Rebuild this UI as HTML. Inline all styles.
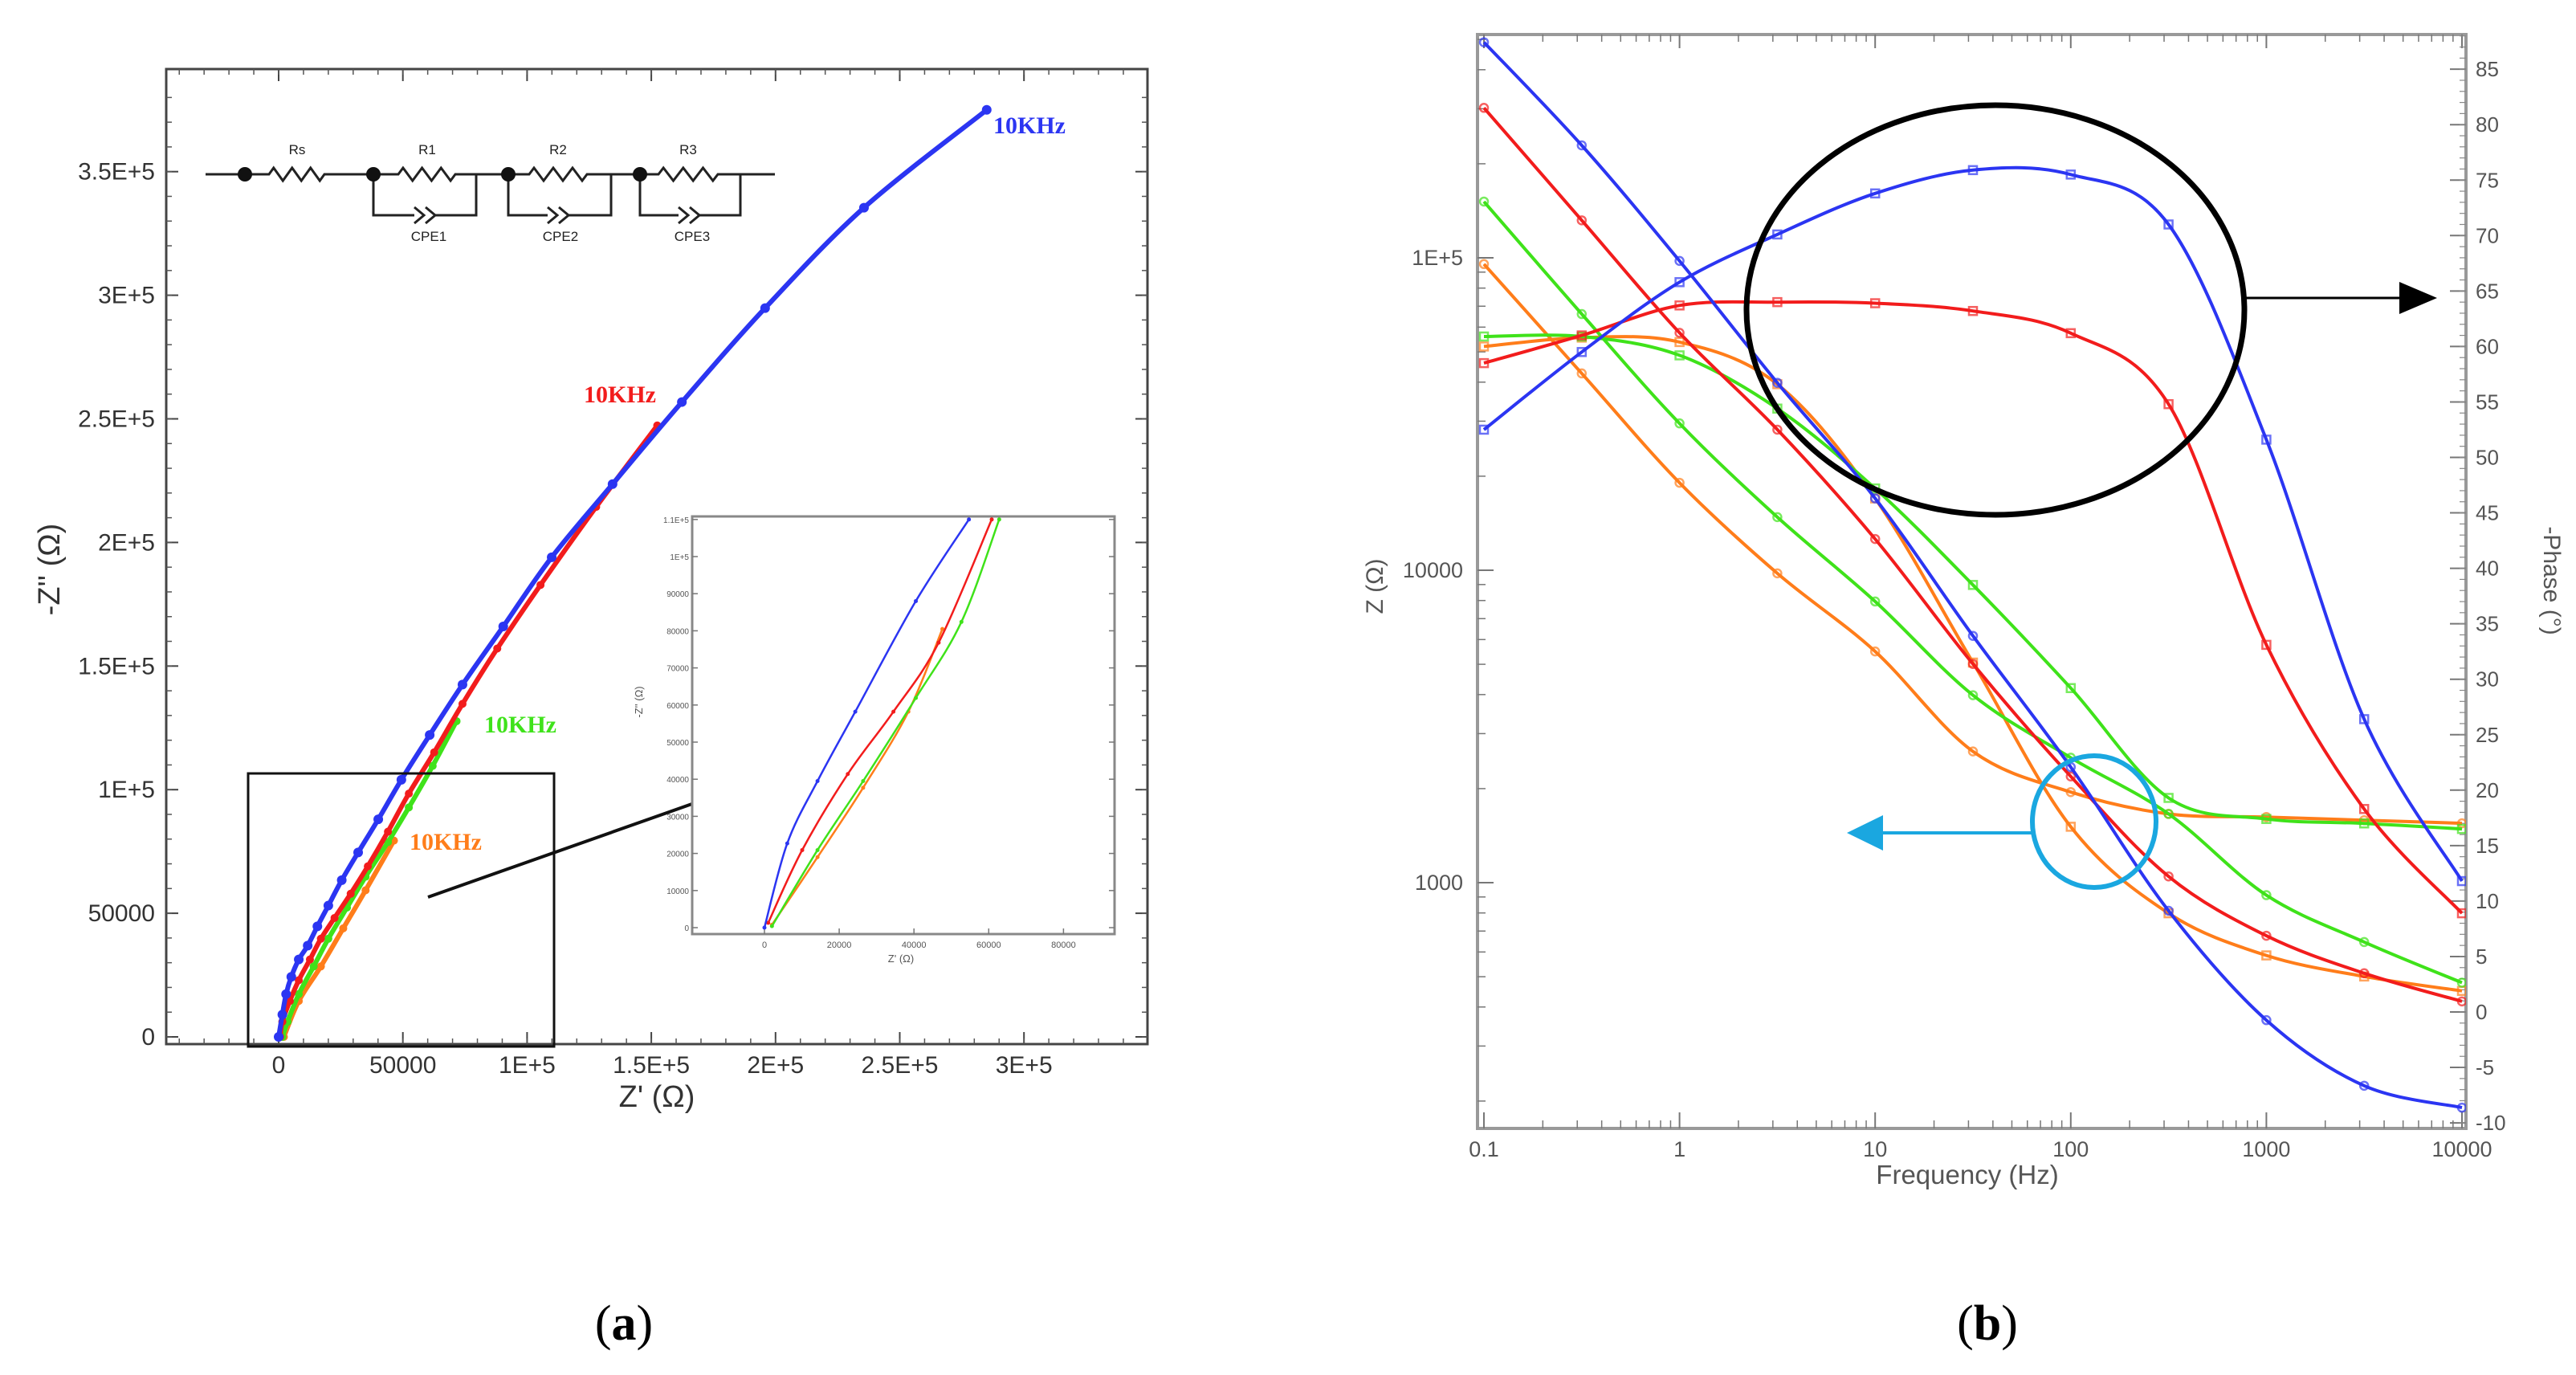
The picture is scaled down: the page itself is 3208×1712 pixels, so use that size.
<!DOCTYPE html>
<html><head><meta charset="utf-8"><style>
html,body{margin:0;padding:0;background:#fff;}
svg{display:block;}
</style></head><body>
<svg id="fig" width="3208" height="1712" viewBox="0 0 3208 1712" xmlns="http://www.w3.org/2000/svg" font-family="Liberation Sans, sans-serif">
<rect width="3208" height="1712" fill="#fff"/>
<g id="left"></g>
<g id="right"></g>
<text x="777" y="1668" font-size="62" text-anchor="middle" font-family="Liberation Serif, serif">(<tspan font-weight="bold">a</tspan>)</text>
<text x="2475" y="1668" font-size="62" text-anchor="middle" font-family="Liberation Serif, serif">(<tspan font-weight="bold">b</tspan>)</text>
</svg>
<script>
// ---------- Nyquist data (Z', -Z'') ----------
const nyqBlueX=[0,1500,3000,5100,8100,11700,15600,20000,25400,32000,40100,49400,60800,74000,90400,109900,134400,162300,195800,235600,285000];
const nyqBlueY=[0,9000,17300,24300,31300,36900,44700,53100,63400,74600,88000,104000,122100,142500,166000,194000,223600,256800,294800,335400,375000];
const nyqRedX=[600,1500,4500,8100,12600,17000,22500,29000,35900,44000,52400,62600,74000,88000,105400,127800,152400];
const nyqRedY=[0,6100,14500,22900,31300,39700,48100,57900,69000,83000,98400,115100,134700,157100,182800,214400,247300];
const nyqGreenX=[1500,3600,8100,14100,20000,27500,35000,44000,52400,62000,71600];
const nyqGreenY=[0,6100,17300,28500,39700,52300,64800,78800,92800,109600,127700];
const nyqOrangeX=[2100,8100,17000,26000,35000,46400];
const nyqOrangeY=[0,14500,28500,43900,59300,79400];
const nyqXTicks=[0,50000,100000,150000,200000,250000,300000];
const nyqXTickLabels=["0","50000","1E+5","1.5E+5","2E+5","2.5E+5","3E+5"];
const nyqYTicks=[0,50000,100000,150000,200000,250000,300000,350000];
const nyqYTickLabels=["0","50000","1E+5","1.5E+5","2E+5","2.5E+5","3E+5","3.5E+5"];
// inset
const insBlueX=[0,6100,14200,24300,40500,54700];
const insBlueY=[0,22700,39500,58200,88000,110000];
const insRedX=[1000,10100,22300,34500,46600,60800];
const insRedY=[1300,20900,41400,58200,76800,110000];
const insGreenX=[2000,14200,26400,40500,52700,62800];
const insGreenY=[400,20900,39500,61900,82400,110000];
const insOrangeX=[2000,14200,26400,38500,47600];
const insOrangeY=[750,19000,37700,58200,80500];
const insXTicks=[0,20000,40000,60000,80000];
const insYTicks=[0,10000,20000,30000,40000,50000,60000,70000,80000,90000,100000,110000];
const insYTickLabels=["0","10000","20000","30000","40000","50000","60000","70000","80000","90000","1E+5","1.1E+5"];
// ---------- Bode data ----------
const bodeLogF=[-1,-0.5,0,0.5,1,1.5,2,2.5,3,3.5,4];
const zBlue=[5.69,5.36,4.99,4.60,4.23,3.79,3.37,2.91,2.56,2.35,2.28];
const zRed=[5.48,5.12,4.76,4.45,4.10,3.70,3.34,3.02,2.83,2.71,2.62];
const zGreen=[5.18,4.82,4.47,4.17,3.90,3.60,3.40,3.22,2.96,2.81,2.68];
const zOrange=[4.98,4.63,4.28,3.99,3.74,3.42,3.29,3.22,3.21,3.20,3.19];
const phBlue=[52.5,59.5,65.8,70.1,73.8,75.9,75.5,71.0,51.6,26.4,11.8];
const phRed=[58.5,61.0,63.7,64.0,63.9,63.2,61.2,54.8,33.1,18.3,8.9];
const phGreen=[60.9,60.9,59.2,54.4,47.2,38.5,29.2,19.3,17.4,17.0,16.5];
const phOrange=[60.0,60.8,60.4,56.6,46.3,31.5,16.7,8.9,5.1,3.2,1.9];
const fTickLabels=["0.1","1","10","100","1000","10000"];
const zTicks=[5,4,3];
const zTickLabels=["1E+5","10000","1000"];
const phTicks=[85,80,75,70,65,60,55,50,45,40,35,30,25,20,15,10,5,0,-5,-10];

const NS="http://www.w3.org/2000/svg";
const C={blue:"#2b35f2",red:"#f21c1c",green:"#3fe21a",orange:"#ff7d1a"};
function mk(parent,tag,attrs){const e=document.createElementNS(NS,tag);for(const k in attrs)e.setAttribute(k,attrs[k]);parent.appendChild(e);return e;}
function smooth(pts){if(pts.length<2)return"";let d="M"+pts[0][0].toFixed(1)+","+pts[0][1].toFixed(1);for(let i=0;i<pts.length-1;i++){const p0=pts[Math.max(0,i-1)],p1=pts[i],p2=pts[i+1],p3=pts[Math.min(pts.length-1,i+2)];const c1=[p1[0]+(p2[0]-p0[0])/6,p1[1]+(p2[1]-p0[1])/6],c2=[p2[0]-(p3[0]-p1[0])/6,p2[1]-(p3[1]-p1[1])/6];d+=" C"+c1[0].toFixed(1)+","+c1[1].toFixed(1)+" "+c2[0].toFixed(1)+","+c2[1].toFixed(1)+" "+p2[0].toFixed(1)+","+p2[1].toFixed(1);}return d;}

// ===== LEFT =====
const L=document.getElementById('left');
const lx=v=>347+v/50000*154.7, ly=v=>1291-v/50000*153.9;
let fr=mk(L,'rect',{x:207,y:86,width:1222,height:1214,fill:'none',stroke:'#444','stroke-width':3});

for(let i=0;i<nyqXTicks.length;i++){const x=lx(nyqXTicks[i]);
 mk(L,'line',{x1:x,y1:1300,x2:x,y2:1285,stroke:'#444','stroke-width':2});
 mk(L,'line',{x1:x,y1:86,x2:x,y2:101,stroke:'#444','stroke-width':2});
 const t=mk(L,'text',{x:x,y:1336,'font-size':30,'text-anchor':'middle',fill:'#333'});t.textContent=nyqXTickLabels[i];
 }
for(let v=-40000;v<=340000;v+=10000){const x=lx(v);if(x<207||x>1429)continue;mk(L,'line',{x1:x,y1:1300,x2:x,y2:1293,stroke:'#555','stroke-width':1.5});mk(L,'line',{x1:x,y1:86,x2:x,y2:93,stroke:'#555','stroke-width':1.5});}
for(let i=0;i<nyqYTicks.length;i++){const y=ly(nyqYTicks[i]);
 mk(L,'line',{x1:207,y1:y,x2:222,y2:y,stroke:'#444','stroke-width':2});
 mk(L,'line',{x1:1429,y1:y,x2:1414,y2:y,stroke:'#444','stroke-width':2});
 const t=mk(L,'text',{x:193,y:y+10,'font-size':30,'text-anchor':'end',fill:'#333'});t.textContent=nyqYTickLabels[i];
 }
for(let v=0;v<=380000;v+=10000){const y=ly(v);if(y<86)continue;mk(L,'line',{x1:207,y1:y,x2:214,y2:y,stroke:'#555','stroke-width':1.5});mk(L,'line',{x1:1429,y1:y,x2:1422,y2:y,stroke:'#555','stroke-width':1.5});}
let t1=mk(L,'text',{x:818,y:1378,'font-size':38,'text-anchor':'middle',fill:'#333'});t1.textContent="Z' (Ω)";

let t2=mk(L,'text',{x:0,y:0,'font-size':38,'text-anchor':'middle',fill:'#333',transform:'translate(74,709) rotate(-90)'});t2.textContent="-Z'' (Ω)";


function nyqSeries(g,xs,ys,col,name,fx,fy,w,r){
 const pts=xs.map((v,i)=>[fx(v),fy(ys[i])]);
 const p=mk(g,'path',{d:smooth(pts),fill:'none',stroke:col,'stroke-width':w,'stroke-linecap':'round'});
 
 pts.forEach(q=>{const c=mk(g,'circle',{cx:q[0],cy:q[1],r:r,fill:col});
  });
}
nyqSeries(L,nyqOrangeX,nyqOrangeY,C.orange,'orange-nyquist',lx,ly,6,5);
nyqSeries(L,nyqGreenX,nyqGreenY,C.green,'green-nyquist',lx,ly,6,5);
nyqSeries(L,nyqRedX,nyqRedY,C.red,'red-nyquist',lx,ly,6,5);
nyqSeries(L,nyqBlueX,nyqBlueY,C.blue,'blue-nyquist',lx,ly,6,6);
// 10KHz labels
[[1237,166,C.blue,'blue-10khz-label'],[727,501,C.red,'red-10khz-label'],[603,912,C.green,'green-10khz-label'],[510,1058,C.orange,'orange-10khz-label']].forEach(a=>{
 const t=mk(L,'text',{x:a[0],y:a[1],'font-size':30,'font-weight':'bold','font-family':'Liberation Serif, serif',fill:a[2]});t.textContent="10KHz";
 });
// zoom rectangle & arrow
let zr=mk(L,'rect',{x:309,y:963,width:381,height:340,fill:'none',stroke:'#111','stroke-width':3});

mk(L,'defs',{}).innerHTML='<marker id="ah" markerWidth="30" markerHeight="24" refX="9" refY="4" orient="auto" markerUnits="userSpaceOnUse" viewBox="0 0 10 8"><path d="M0,0 L10,4 L0,8 z" fill="#111"/></marker>';
let za=mk(L,'line',{x1:533,y1:1117,x2:958,y2:967,stroke:'#111','stroke-width':4,'marker-end':'url(#ah)'});

// circuit
const CG=mk(L,'g',{stroke:'#222','stroke-width':3,fill:'none'});

function res(x1,x2,y){const n=6,w=(x2-x1)/n;let d="M"+x1+","+y;for(let i=0;i<n;i++){d+=" L"+(x1+w*(i+0.5))+","+(y+(i%2?8:-8));}d+=" L"+x2+","+y;return d;}
mk(CG,'path',{d:"M256,217 L335,217 "+res(335,404,217).replace('M','L')+" L496,217 "+res(496,567,217).replace('M','L')+" L659,217 "+res(659,731,217).replace('M','L')+" L820,217 "+res(820,894,217).replace('M','L')+" L965,217"});
[[465,593,516,552],[633,761,682,715],[797,922,845,879]].forEach(b=>{
 mk(CG,'path',{d:`M${b[0]},217 L${b[0]},268 L${b[2]},268 M${b[3]},268 L${b[1]},268 L${b[1]},217`});
 mk(CG,'path',{d:`M${b[2]},258 L${b[2]+12},268 L${b[2]},278 M${b[2]+14},258 L${b[2]+26},268 L${b[2]+14},278`});
 mk(CG,'line',{x1:b[2]+26,y1:268,x2:b[3],y2:268});
});
[305,465,633,797].forEach(x=>{const c=mk(L,'circle',{cx:x,cy:217,r:9,fill:'#111'});});
[["Rs",370,192],["R1",532,192],["R2",695,192],["R3",857,192],["CPE1",534,300],["CPE2",698,300],["CPE3",862,300]].forEach(a=>{
 const t=mk(L,'text',{x:a[1],y:a[2],'font-size':17,'text-anchor':'middle',fill:'#222'});t.textContent=a[0];
 });
// inset
const IN=mk(L,'g',{});
const ix=v=>952+v/20000*93.1, iy=v=>1155-v/10000*46.2;
mk(IN,'rect',{x:862,y:643,width:526,height:520,fill:'#fff',stroke:'#888','stroke-width':3});
insXTicks.forEach(v=>{const x=ix(v);mk(IN,'line',{x1:x,y1:1163,x2:x,y2:1156,stroke:'#777','stroke-width':1.5});
 const t=mk(IN,'text',{x:x,y:1180,'font-size':11,'text-anchor':'middle',fill:'#555'});t.textContent=String(v);
 });
insYTicks.forEach((v,i)=>{const y=iy(v);mk(IN,'line',{x1:862,y1:y,x2:869,y2:y,stroke:'#777','stroke-width':1.5});mk(IN,'line',{x1:1388,y1:y,x2:1381,y2:y,stroke:'#777','stroke-width':1.5});
 const t=mk(IN,'text',{x:858,y:y+4,'font-size':10,'text-anchor':'end',fill:'#555'});t.textContent=insYTickLabels[i];
 });
let it=mk(IN,'text',{x:1122,y:1198,'font-size':13,'text-anchor':'middle',fill:'#555'});it.textContent="Z' (Ω)";

let iy2=mk(IN,'text',{x:0,y:0,'font-size':13,'text-anchor':'middle',fill:'#555',transform:'translate(800,874) rotate(-90)'});iy2.textContent="-Z'' (Ω)";

nyqSeries(IN,insOrangeX,insOrangeY,C.orange,'inset-orange',ix,iy,2.5,2.5);
nyqSeries(IN,insGreenX,insGreenY,C.green,'inset-green',ix,iy,2.5,2.5);
nyqSeries(IN,insRedX,insRedY,C.red,'inset-red',ix,iy,2.5,2.5);
nyqSeries(IN,insBlueX,insBlueY,C.blue,'inset-blue',ix,iy,2.5,2.5);

// ===== RIGHT =====
const R=document.getElementById('right');
const fx=lf=>1848+(lf+1)*243.6;
const zy=lz=>321-(lz-5)*389;
const py=p=>1260-p*13.81;
mk(R,'defs',{}).innerHTML='<clipPath id="bclip"><rect x="1840" y="43" width="1231" height="1362"/></clipPath>';
let rf=mk(R,'rect',{x:1840,y:43,width:1231,height:1362,fill:'none',stroke:'#999','stroke-width':4});

for(let d=-1;d<=4;d++){const x=fx(d);
 mk(R,'line',{x1:x,y1:1405,x2:x,y2:1385,stroke:'#777','stroke-width':2});mk(R,'line',{x1:x,y1:43,x2:x,y2:60,stroke:'#777','stroke-width':2});
 const t=mk(R,'text',{x:x,y:1440,'font-size':27,'text-anchor':'middle',fill:'#555'});t.textContent=fTickLabels[d+1];
 
 if(d<4)for(let m=2;m<10;m++){const xm=fx(d+Math.log10(m));mk(R,'line',{x1:xm,y1:1405,x2:xm,y2:1395,stroke:'#777','stroke-width':1.5});mk(R,'line',{x1:xm,y1:43,x2:xm,y2:52,stroke:'#777','stroke-width':1.5});}}
zTicks.forEach((v,i)=>{const y=zy(v);mk(R,'line',{x1:1840,y1:y,x2:1860,y2:y,stroke:'#777','stroke-width':2});
 const t=mk(R,'text',{x:1822,y:y+9,'font-size':27,'text-anchor':'end',fill:'#555'});t.textContent=zTickLabels[i];
 });
for(let d=2;d<=5;d++)for(let m=2;m<10;m++){const y=zy(d+Math.log10(m));if(y<43||y>1405)continue;mk(R,'line',{x1:1840,y1:y,x2:1850,y2:y,stroke:'#777','stroke-width':1.5});}
phTicks.forEach(v=>{const y=py(v);mk(R,'line',{x1:3071,y1:y,x2:3051,y2:y,stroke:'#777','stroke-width':2});
 const t=mk(R,'text',{x:3083,y:y+9,'font-size':26,fill:'#555'});t.textContent=String(v);
 });
for(let v=-10;v<=88;v++){const y=py(v);mk(R,'line',{x1:3071,y1:y,x2:3063,y2:y,stroke:'#888','stroke-width':1.2});}
let ft=mk(R,'text',{x:2450,y:1474,'font-size':33,'text-anchor':'middle',fill:'#555'});ft.textContent="Frequency (Hz)";

let zt=mk(R,'text',{x:0,y:0,'font-size':30,'text-anchor':'middle',fill:'#555',transform:'translate(1722,730) rotate(-90)'});zt.textContent="Z (Ω)";

let pt=mk(R,'text',{x:0,y:0,'font-size':30,'text-anchor':'middle',fill:'#555',transform:'translate(3168,723) rotate(90)'});pt.textContent="-Phase (°)";

const RG=mk(R,'g',{'clip-path':'url(#bclip)'});
function bode(vals,fy,col,name,sq){
 const pts=bodeLogF.map((lf,i)=>[fx(lf),fy(vals[i])]);
 const p=mk(RG,'path',{d:smooth(pts),fill:'none',stroke:col,'stroke-width':4});
 
 pts.forEach(q=>{const m=sq?mk(RG,'rect',{x:q[0]-5,y:q[1]-5,width:10,height:10,fill:'none',stroke:col,'stroke-width':2.5,opacity:0.7}):mk(RG,'circle',{cx:q[0],cy:q[1],r:5,fill:'none',stroke:col,'stroke-width':2.5,opacity:0.7});
  });
}
bode(zOrange,zy,C.orange,'orange-impedance',false);
bode(phOrange,py,C.orange,'orange-phase',true);
bode(zGreen,zy,C.green,'green-impedance',false);
bode(phGreen,py,C.green,'green-phase',true);
bode(zRed,zy,C.red,'red-impedance',false);
bode(phRed,py,C.red,'red-phase',true);
bode(zBlue,zy,C.blue,'blue-impedance',false);
bode(phBlue,py,C.blue,'blue-phase',true);
// annotations
let el=mk(R,'ellipse',{cx:2485,cy:386,rx:310,ry:255,fill:'none',stroke:'#000','stroke-width':7});

let pa=mk(R,'line',{x1:2795,y1:371,x2:2995,y2:371,stroke:'#000','stroke-width':3});

let ph=mk(R,'polygon',{points:'2988,351 3035,371 2988,391',fill:'#000'});

let bc=mk(R,'ellipse',{cx:2608,cy:1023,rx:77,ry:82,fill:'none',stroke:'#1aa7e0','stroke-width':6});

let ba=mk(R,'line',{x1:2531,y1:1037,x2:2340,y2:1037,stroke:'#1aa7e0','stroke-width':4});

let bh=mk(R,'polygon',{points:'2345,1015 2300,1037 2345,1059',fill:'#1aa7e0'});

</script>
</body></html>
